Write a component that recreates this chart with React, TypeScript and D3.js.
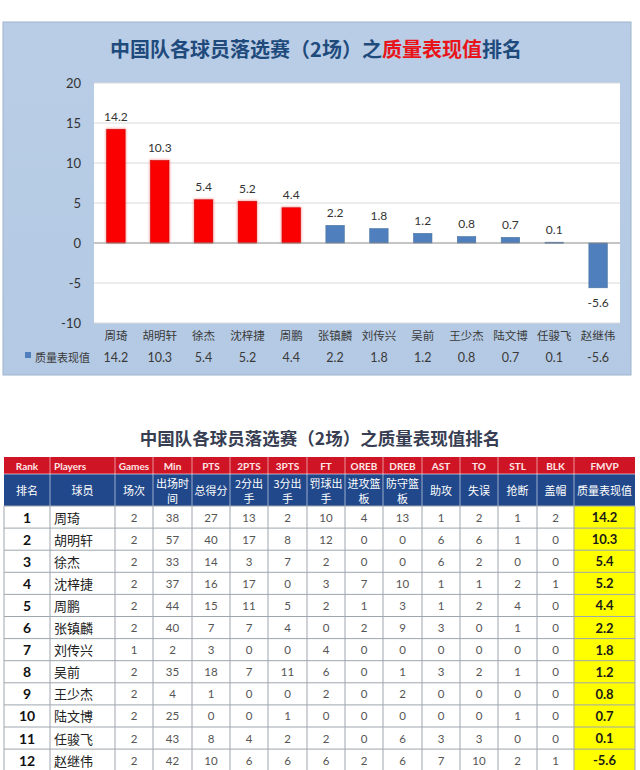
import React from 'react';
import * as d3 from 'd3';

const players = ['周琦', '胡明轩', '徐杰', '沈梓捷', '周鹏', '张镇麟', '刘传兴', '吴前', '王少杰', '陆文博', '任骏飞', '赵继伟'];
const fmvp = [14.2, 10.3, 5.4, 5.2, 4.4, 2.2, 1.8, 1.2, 0.8, 0.7, 0.1, -5.6];
const yTicks = [-10, -5, 0, 5, 10, 15, 20];
const seriesName = '质量表现值';

const games = [2, 2, 2, 2, 2, 2, 1, 2, 2, 2, 2, 2];
const minutes = [38, 57, 33, 37, 44, 40, 2, 35, 4, 25, 43, 42];
const pts = [27, 40, 14, 16, 15, 7, 3, 18, 1, 0, 8, 10];
const pts2 = [13, 17, 3, 17, 11, 7, 0, 7, 0, 0, 4, 6];
const pts3 = [2, 8, 7, 0, 5, 4, 0, 11, 0, 1, 2, 6];
const ft = [10, 12, 2, 3, 2, 0, 4, 6, 2, 0, 2, 6];
const oreb = [4, 0, 0, 7, 1, 2, 0, 0, 0, 0, 0, 2];
const dreb = [13, 0, 0, 10, 3, 9, 0, 1, 2, 0, 6, 6];
const ast = [1, 6, 6, 1, 1, 3, 0, 3, 0, 0, 3, 7];
const tov = [2, 6, 2, 1, 2, 0, 0, 2, 0, 0, 3, 10];
const stl = [1, 1, 0, 2, 4, 1, 0, 1, 0, 1, 0, 2];
const blk = [2, 0, 0, 1, 0, 0, 0, 0, 0, 0, 0, 1];

const headEn = ['Rank', 'Players', 'Games', 'Min', 'PTS', '2PTS', '3PTS', 'FT', 'OREB', 'DREB', 'AST', 'TO', 'STL', 'BLK', 'FMVP'];
const headCn = [['排名'], ['球员'], ['场次'], ['出场时', '间'], ['总得分'], ['2分出', '手'], ['3分出', '手'], ['罚球出', '手'], ['进攻篮', '板'], ['防守篮', '板'], ['助攻'], ['失误'], ['抢断'], ['盖帽'], ['质量表现值']];

const titlePre = '中国队各球员落选赛（2场）之';
const titleHi = '质量表现值';
const titlePost = '排名';

const CN = "'Noto Sans CJK SC', sans-serif";
const NUM = "Lato, 'Noto Sans CJK SC', sans-serif";

export default function App() {
  // ---------- chart ----------
  const plot = { left: 94, right: 620, top: 83, bottom: 323 };
  const x = d3.scaleBand<string>().domain(players).range([plot.left, plot.right]).padding(0);
  const y = d3.scaleLinear().domain([-10, 20]).range([plot.bottom, plot.top]);
  const bw = x.bandwidth() * 0.42;

  // ---------- table ----------
  const colEdges = [4, 50, 115, 153, 192, 230, 268, 307, 345, 383, 422, 460, 498, 537, 574, 635];
  const h1Top = 457, h2Top = 474, bodyTop = 506, rowH = 22.1;
  const rowY = d3.scaleLinear().domain([0, 1]).range([bodyTop, bodyTop + rowH]);
  const numCols = [games, minutes, pts, pts2, pts3, ft, oreb, dreb, ast, tov, stl, blk];
  const cx = (i: number) => (colEdges[i] + colEdges[i + 1]) / 2;
  const tableBottom = rowY(players.length);

  return (
    <svg width={640} height={770} style={{ position: 'absolute', left: 0, top: 0, background: '#fff' }}>
      <defs>
        <filter id="glow" x="-30%" y="-30%" width="160%" height="160%">
          <feGaussianBlur stdDeviation="1.2" />
        </filter>
        <linearGradient id="panelGrad" x1="0" y1="0" x2="0" y2="1">
          <stop offset="0" stopColor="#b9cde6" />
          <stop offset="1" stopColor="#b4c9e3" />
        </linearGradient>
      </defs>

      {/* chart panel */}
      <rect x={3} y={22} width={628} height={353} fill="url(#panelGrad)" stroke="#9fb3cc" />
      <text x={316} y={48} textAnchor="middle" dominantBaseline="central" fontFamily={CN} fontWeight={700} fontSize={20} fill="#1f4a7c">
        <tspan>{titlePre}</tspan>
        <tspan fill="#e8141a">{titleHi}</tspan>
        <tspan>{titlePost}</tspan>
      </text>
      <rect x={plot.left} y={plot.top} width={plot.right - plot.left} height={plot.bottom - plot.top} fill="#fff" />
      {yTicks.map((t) => (
        <g key={t}>
          {t !== 0 && <line x1={plot.left} x2={plot.right} y1={y(t)} y2={y(t)} stroke="#d9d9d9" />}
          <text x={81} y={y(t)} textAnchor="end" dominantBaseline="central" fontFamily={NUM} fontSize={13} fill="#333">{t}</text>
        </g>
      ))}
      {players.map((p, i) => {
        const v = fmvp[i];
        const top = y(Math.max(0, v));
        const h = Math.abs(y(v) - y(0));
        const red = i < 5;
        const bx = (x(p) as number) + x.bandwidth() / 2 - bw / 2;
        return (
          <g key={p}>
            {red && <rect x={bx - 1} y={top - 1} width={bw + 2} height={h + 1} fill="#ff6060" opacity={0.6} filter="url(#glow)" />}
            <rect x={bx} y={top} width={bw} height={Math.max(h, 1)} fill={red ? '#fb0000' : '#4f7fbc'} stroke={red ? '#c80000' : '#44709f'} strokeWidth={0.6} />
            <text x={bx + bw / 2} y={v >= 0 ? top - 13 : y(v) + 15} textAnchor="middle" dominantBaseline="central" fontFamily={NUM} fontSize={12} fill="#333">{v}</text>
            <text x={bx + bw / 2} y={335} textAnchor="middle" dominantBaseline="central" fontFamily={CN} fontSize={11.5} fill="#3a3a3a">{p}</text>
            <text x={bx + bw / 2} y={357} textAnchor="middle" dominantBaseline="central" fontFamily={NUM} fontSize={12.5} fill="#3a3a3a">{v}</text>
          </g>
        );
      })}
      <line x1={plot.left} x2={plot.right} y1={y(0)} y2={y(0)} stroke="#8a8a8a" />
      <rect x={25} y={352} width={6} height={6} fill="#4f7fbc" />
      <text x={35} y={357} dominantBaseline="central" fontFamily={CN} fontSize={11} fill="#3a3a3a">{seriesName}</text>

      {/* table */}
      <text x={320} y={437} textAnchor="middle" dominantBaseline="central" fontFamily={CN} fontWeight={700} fontSize={17.5} fill="#373e52">
        {titlePre + titleHi + titlePost}
      </text>
      <rect x={colEdges[0]} y={h1Top} width={colEdges[15] - colEdges[0]} height={h2Top - h1Top} fill="#cf1425" />
      <rect x={colEdges[0]} y={h2Top} width={colEdges[15] - colEdges[0]} height={bodyTop - h2Top} fill="#21488a" />
      {headEn.map((h, i) => (
        <g key={h}>
          {i > 0 && <line x1={colEdges[i]} x2={colEdges[i]} y1={h1Top} y2={bodyTop} stroke="#ffffff" strokeOpacity={0.55} />}
          <text x={i === 1 ? colEdges[1] + 4 : cx(i)} y={(h1Top + h2Top) / 2} textAnchor={i === 1 ? 'start' : 'middle'} dominantBaseline="central" fontFamily={NUM} fontWeight={700} fontSize={10} fill="#ffe6e6">{h}</text>
          {headCn[i].map((line, k) => (
            <text key={k} x={cx(i)} y={headCn[i].length === 1 ? (h2Top + bodyTop) / 2 : h2Top + 9 + k * 15} textAnchor="middle" dominantBaseline="central" fontFamily={CN} fontSize={11} fill="#ffffff">{line}</text>
          ))}
        </g>
      ))}
      <line x1={colEdges[0]} x2={colEdges[15]} y1={h2Top} y2={h2Top} stroke="#ffffff" strokeOpacity={0.6} />
      <rect x={colEdges[14]} y={bodyTop} width={colEdges[15] - colEdges[14]} height={tableBottom - bodyTop} fill="#ffff00" />
      {players.map((p, r) => (
        <g key={p}>
          <text x={cx(0)} y={rowY(r + 0.5)} textAnchor="middle" dominantBaseline="central" fontFamily={NUM} fontWeight={700} fontSize={14} fill="#111">{r + 1}</text>
          <text x={colEdges[1] + 4} y={rowY(r + 0.5)} dominantBaseline="central" fontFamily={CN} fontSize={13} fill="#222">{p}</text>
          {numCols.map((col, c) => (
            <text key={c} x={cx(c + 2)} y={rowY(r + 0.5)} textAnchor="middle" dominantBaseline="central" fontFamily={NUM} fontSize={11.5} fill="#555">{col[r]}</text>
          ))}
          <text x={cx(14)} y={rowY(r + 0.5)} textAnchor="middle" dominantBaseline="central" fontFamily={NUM} fontWeight={700} fontSize={13} fill="#1a1a1a">{fmvp[r]}</text>
        </g>
      ))}
      {d3.range(players.length + 1).map((r) => (
        <line key={'h' + r} x1={colEdges[0]} x2={colEdges[15]} y1={rowY(r)} y2={rowY(r)} stroke="#9ea6ae" />
      ))}
      {colEdges.map((e, i) => (
        <line key={'v' + i} x1={e} x2={e} y1={bodyTop} y2={tableBottom} stroke="#9ea6ae" />
      ))}
    </svg>
  );
}
